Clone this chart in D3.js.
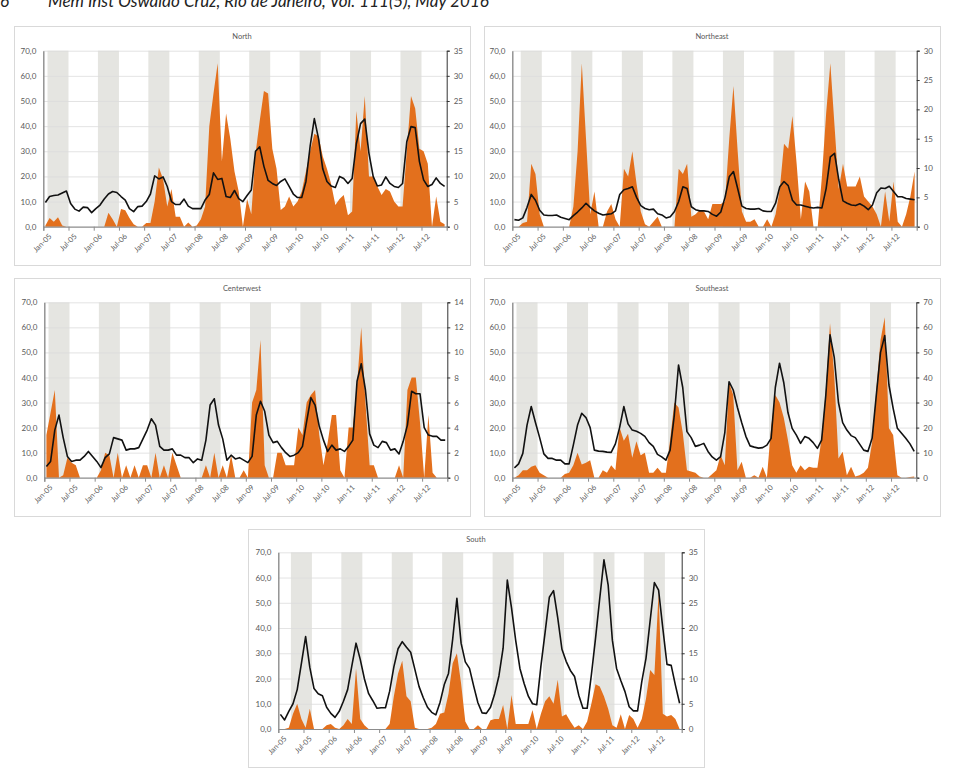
<!DOCTYPE html>
<html><head><meta charset="utf-8">
<script src="https://cdn.jsdelivr.net/npm/d3@7"></script>
<style>
body{margin:0;background:#fff;}
svg{display:block;}
text{font-family:Lato,"Open Sans","Liberation Sans",sans-serif;}
</style>
</head><body>
<svg id="c" width="963" height="774"></svg>
<script>
// ---------- DATA ----------
const tickLabels = ["Jan-05","Jul-05","Jan-06","Jul-06","Jan-07","Jul-07","Jan-08","Jul-08",
                    "Jan-09","Jul-09","Jan-10","Jul-10","Jan-11","Jul-11","Jan-12","Jul-12"];
const leftTicks = [0,10,20,30,40,50,60,70];

const northArea = [0.5,3.5,2,3.8,0.5,0,0,0,0,0,0,0,
 0,0,0,5.5,3,0,7,6.5,3.5,1,0,0,
 1.5,1.5,10,23.5,19,8,15,4,4,0,1.7,0,
 0.5,3,8,40,53,65,26,45,35,22,14,0,
 11,5,29,42,54,53,31,23,6.6,8,12,8,
 10,14,22,30,37,36,28,23,17,8.6,11,12.6,
 4.6,6,46,30,52,20,20,16,12.6,15,14,10,
 8,8,30,52,47,31,30,25,0,12,2,1];
const northLine = [4.8,6.0,6.2,6.3,6.7,7.1,4.6,3.5,3.1,3.9,3.8,2.8,
 3.6,4.3,5.5,6.5,7.0,6.8,6.0,5.3,3.6,3.0,4.0,4.1,
 5.0,6.5,10.1,9.5,9.9,8.0,5.0,4.4,4.4,5.5,4.1,3.6,
 3.6,3.6,5.3,6.4,10.7,9.4,9.6,6.0,5.8,7.2,5.6,5.0,
 6.2,7.3,15,15.9,12,9.2,8.6,8.2,9.0,9.5,8.0,6.5,
 5.8,5.8,9.0,16,21.5,17.5,11.5,9.0,8.1,7.8,10,9.6,
 8.6,9.6,16.5,20.5,21.4,14.6,10,8.1,8.3,9.9,8.6,8.0,
 7.8,8.6,16.9,19.9,19.7,13,9.3,8,8.4,9.7,8.6,8.0];

const northeastArea = [0,0,1.5,2,25,21,5,0,0,0,0,0,
 0,0,8,30,65,35,5,14,0,0,6,9,
 3,0,23,20,30,17,6,1,0,2,4,0,
 0,0,0,23,21,25,4,5,6.6,6,3,9,
 9,9,10,35,56,30,6,2,2,3,0,0,
 3,0,5,15,33,31,44,25,3,18,14,0,
 0,20,45,65,40,15,25,16,16,16,20,12,
 10,8,5,0,14,2,18,2,0,5,12,22];
const northeastLine = [1.2,1.1,1.5,3.3,5.5,4.5,2.8,2.0,1.9,1.9,2.0,1.6,
 1.4,1.2,1.9,2.5,3.2,4.0,3.3,2.7,2.3,2.0,2.1,2.2,
 2.7,5.5,6.3,6.5,6.8,5.0,3.6,3.1,2.9,3.0,2.2,2.0,
 1.5,1.7,2.6,4.3,6.8,6.5,3.4,2.9,2.7,2.7,2.6,2.1,
 1.8,2.5,5.0,8.5,9.4,6.5,3.5,3.1,3.0,3.0,3.1,2.7,
 2.6,2.6,4.0,6.8,7.7,7.0,4.5,3.7,3.7,3.5,3.3,3.2,
 3.3,3.2,6.5,11.9,12.5,8.0,4.4,4.0,3.7,3.6,3.9,3.5,
 2.9,3.7,5.8,6.6,6.5,6.9,6.0,5.1,5.1,4.8,4.7,4.6];

const centerwestArea = [17,26,35,0,1,8,6,5,0,0,0,0,
 0,3,10,9,0,10,0,5,0,5,0,5,
 5,0,10,0,5,0,10,5,0,0,0,0,
 0,0,5,0,10,0,5,0,9,0,0,3,
 0,30,35,55,5,0,0,10,10,5,5,5,
 20,17,30,33,35,17,5,14,25,25,3,0,
 20,20,37,60,30,5,5,0,0,0,0,0,
 5,0,35,40,40,22,0,25,2,0,0,0];
const centerwestLine = [0.9,1.3,3.8,5.0,3.2,1.7,1.3,1.4,1.4,1.7,2.1,1.7,
 1.3,0.8,1.6,1.9,3.2,3.1,3.0,2.2,2.3,2.3,2.4,3.1,
 3.8,4.7,4.2,2.5,2.2,2.2,2.3,1.8,1.8,1.6,1.6,1.2,
 1.5,1.4,3.0,5.8,6.3,4.2,3.1,1.4,1.8,1.5,1.6,1.4,
 1.2,1.7,5.0,6.1,5.3,3.4,2.8,2.9,2.4,2.0,1.7,1.8,
 2.0,2.5,4.5,6.4,5.8,4.1,3.0,2.1,2.6,2.2,2.3,2.1,
 2.5,3.0,7.7,9.1,7.0,3.5,2.6,2.4,2.9,2.8,2.2,2.3,
 1.9,2.9,4.2,6.9,6.7,6.7,4.0,3.4,3.3,3.3,3.0,3.0];

const southeastArea = [0,1,3,3,4.4,5,2,1,0,0,0,0,
 1.5,2,5,10,5.3,6,7,0,0,3,2,5,
 3,20,14.7,17.5,8,14.5,9,10,2,2,4,2,
 2,15,30,28,18,3,2.5,2,0.5,0,0,1.5,
 3,9,5,38,33,3,6.4,0,0,1,0,4.4,
 0,20,33,30,24,15,5,2,5,3,4.4,4,
 4,15.7,35,61.6,41,7.7,10.4,1,4.4,0.5,1,2,
 4,14,35,55,64,19.7,17,1,0,0,0.3,0.5];
const southeastLine = [3.9,5.5,9.7,21,28.4,22,16,9.5,7.7,7.7,7.0,7.0,
 5.5,5.5,13,21,25.7,24,20,11,10.6,10.5,10.2,10.1,
 13.5,20,28.4,21.5,19,18.5,17.7,16.5,14,12.5,9.3,8.3,
 7.0,11,25,45,36,18.4,16,12.5,13,13.7,10.5,8.3,
 7,8.4,18,38.3,35,28,22,16.5,12.7,12.2,11.8,12,
 13,15.7,36,45.7,38,26,19.7,17,13.7,16.4,15.7,14,
 11.7,15,33,57,48,30,22,19,16.8,16,13.5,11,
 10.5,15.7,33,50,56.7,37,27.7,19.7,17.7,15.7,13.5,10.5];

const southArea = [0,0,0.5,6,10,4,0.5,8,0,0,0,1.5,
 2,0.5,0,1.5,4,2,24,4,1.5,0,0,0,
 0,0,2,13,22,27,13,11,0.5,0,0,0,
 0.5,2,6,6.5,14,26,30,18,3,0,0,1.5,
 0,0,3.5,4,4,9.5,0,13.5,2,2,2,2,
 7.5,0,6,11,13,10,19.5,5,5.8,3,0.5,1.5,
 0,3,10,17.7,16.8,13,8,1.5,0.5,5.8,0,5.5,
 4,0.5,4,12,23.4,21.4,54,6,5,5.5,4,0];
const southLine = [2.9,1.8,3.5,5.0,7.8,13,18.3,12.2,8,7.0,6.6,4.3,
 3.1,2.3,3.5,5.5,7.8,12.5,17,13.8,9.9,7.0,5.6,4.1,
 4.2,4.2,7.5,12.3,15.9,17.3,16.2,15.2,11.8,8.4,6.2,4.3,
 3.3,2.8,5.3,8.8,11,17.8,25.9,17,13.3,12,8.5,5.2,
 3.2,3.1,4.3,7.0,10.5,16,29.5,24,17.5,12,9,6.5,
 5.0,4.8,12.5,19.2,26.1,27.4,22,15.8,13.4,11.6,10.4,6.7,
 4.1,4.1,10.7,18,25.9,33.5,28.5,17.6,12,9.6,7.4,4.4,
 3.6,3.6,9.4,14,21.5,29,27.5,20,12.8,12.6,8.7,5.1];

// ---------- LAYOUT ----------
const panels = [
  {title:"North", area:northArea, line:northLine, rMax:35, rStep:5, band:1,
   frame:[14,26,456,239], plot:[43.3,50.7,446.7,226.7]},
  {title:"Northeast", area:northeastArea, line:northeastLine, rMax:30, rStep:5, band:2,
   frame:[484,26,456,239], plot:[512.3,50.7,916.7,226.7]},
  {title:"Centerwest", area:centerwestArea, line:centerwestLine, rMax:14, rStep:2, band:1,
   frame:[14,278,456,238], plot:[44.3,302.3,447.3,477.7]},
  {title:"Southeast", area:southeastArea, line:southeastLine, rMax:70, rStep:10, band:1,
   frame:[484,278,456,238], plot:[512.3,302.3,916.3,477.7]},
  {title:"South", area:southArea, line:southLine, rMax:35, rStep:5, band:3,
   frame:[248,529,456,238], plot:[278.3,552.3,681.7,729]}
];

const ORANGE = "#e3701d", BAND = "#e5e5e1", GRID = "#dcdcdc", TXT = "#595959";
const svg = d3.select("#c");

// journal header (cut at top)
svg.append("text").attr("x",0).attr("y",7).attr("font-size",17).attr("font-style","italic")
   .attr("fill","#222").attr("font-family","'Liberation Sans',Arial,sans-serif").text("6");
svg.append("text").attr("x",48).attr("y",7).attr("font-size",17).attr("font-style","italic")
   .attr("fill","#222").attr("font-family","'Liberation Sans',Arial,sans-serif")
   .text("Mem Inst Oswaldo Cruz, Rio de Janeiro, Vol. 111(5), May 2016");

panels.forEach(p => {
  const [fx,fy,fw,fh] = p.frame;
  const [x0,y0,x1,y1] = p.plot;
  const g = svg.append("g");
  g.append("rect").attr("x",fx+0.5).attr("y",fy+0.5).attr("width",fw).attr("height",fh)
    .attr("fill","#fff").attr("stroke","#d9d9d9").attr("stroke-width",1);
  g.append("text").attr("x",fx+fw/2).attr("y",fy+13).attr("text-anchor","middle")
    .attr("font-size",7.5).attr("fill",TXT).text(p.title);

  const n = p.area.length;
  const xSlot = d3.scaleLinear().domain([0,n]).range([x0,x1]);
  const xPt = i => xSlot(i+0.5);
  const yL = d3.scaleLinear().domain([0,70]).range([y1,y0]);
  const yR = d3.scaleLinear().domain([0,p.rMax]).range([y1,y0]);

  // season bands
  const years = d3.range(8);
  g.append("g").selectAll("rect").data(years).join("rect")
    .attr("x", k => xSlot(12*k+p.band)).attr("y", y0)
    .attr("width", k => xSlot(12*k+p.band+5)-xSlot(12*k+p.band)).attr("height", y1-y0)
    .attr("fill", BAND);

  // gridlines
  g.append("g").selectAll("line").data(leftTicks.slice(1)).join("line")
    .attr("x1",x0).attr("x2",x1).attr("y1",d=>yL(d)+0.5).attr("y2",d=>yL(d)+0.5)
    .attr("stroke",GRID).attr("stroke-width",0.8);

  // area
  g.append("path").datum(p.area)
    .attr("d", d3.area().x((d,i)=>xPt(i)).y0(yL(0)).y1(d=>yL(d)))
    .attr("fill", ORANGE);

  // line
  g.append("path").datum(p.line)
    .attr("d", d3.line().x((d,i)=>xPt(i)).y(d=>yR(d)))
    .attr("fill","none").attr("stroke","#111").attr("stroke-width",1.6).attr("stroke-linejoin","round");

  // left axis
  const la = g.append("g").attr("transform",`translate(${x0},0)`)
    .call(d3.axisLeft(yL).tickValues(leftTicks).tickSize(0).tickPadding(7)
      .tickFormat(d => d.toFixed(1).replace(".",",")));
  la.select(".domain").attr("stroke","#8c8c8c").attr("stroke-width",1.4);
  la.selectAll("text").attr("font-size",8).attr("fill",TXT).attr("font-family","Lato,'Open Sans',sans-serif");

  // right axis
  const ra = g.append("g").attr("transform",`translate(${x1},0)`)
    .call(d3.axisRight(yR).tickValues(d3.range(0,p.rMax+0.001,p.rStep)).tickSize(3).tickPadding(4)
      .tickFormat(d3.format("d")));
  ra.select(".domain").attr("stroke","#333").attr("stroke-width",1);
  ra.selectAll("line").attr("stroke","#333");
  ra.selectAll("text").attr("font-size",8).attr("fill",TXT).attr("font-family","Lato,'Open Sans',sans-serif");

  // bottom axis
  const ba = g.append("g").attr("transform",`translate(0,${y1})`)
    .call(d3.axisBottom(xSlot).tickValues(d3.range(0,n,6)).tickSize(4).tickPadding(2)
      .tickFormat(i => tickLabels[i/6]));
  ba.select(".domain").attr("stroke","#8c8c8c").attr("stroke-width",1.2);
  ba.selectAll("line").attr("stroke","#8c8c8c");
  ba.selectAll("text").attr("font-size",7.5).attr("fill",TXT)
    .attr("font-family","Lato,'Open Sans',sans-serif")
    .attr("text-anchor","end").attr("dy",0)
    .attr("transform","translate(4,6) rotate(-45)");
});
</script>
</body></html>
